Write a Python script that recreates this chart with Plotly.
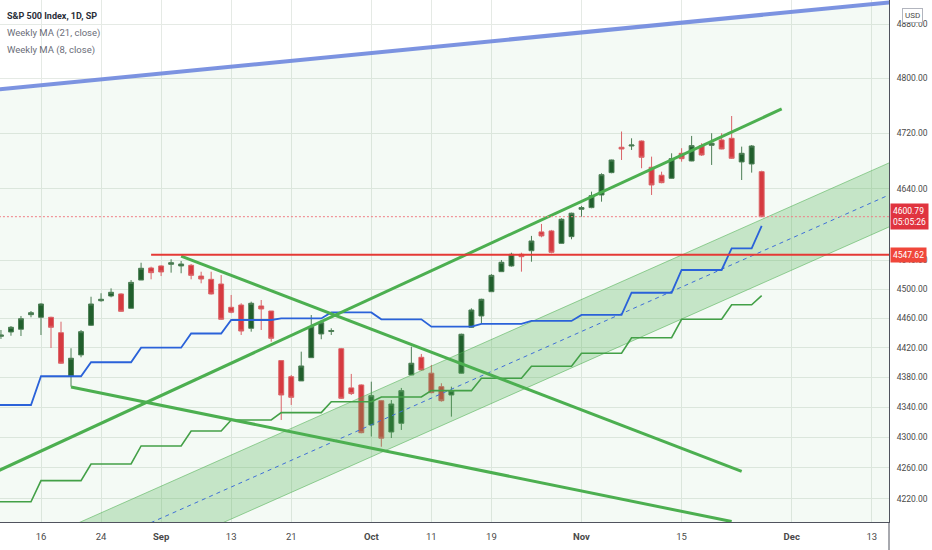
import numpy as np
import plotly.graph_objects as go

# ---- daily candles (S&P 500, 1D) ----
dates = [
    "2021-08-10", "2021-08-11", "2021-08-12", "2021-08-13", "2021-08-16", "2021-08-17",
    "2021-08-18", "2021-08-19", "2021-08-20", "2021-08-23", "2021-08-24", "2021-08-25",
    "2021-08-26", "2021-08-27", "2021-08-30", "2021-08-31", "2021-09-01", "2021-09-02",
    "2021-09-03", "2021-09-07", "2021-09-08", "2021-09-09", "2021-09-10", "2021-09-13",
    "2021-09-14", "2021-09-15", "2021-09-16", "2021-09-17", "2021-09-20", "2021-09-21",
    "2021-09-22", "2021-09-23", "2021-09-24", "2021-09-27", "2021-09-28", "2021-09-29",
    "2021-09-30", "2021-10-01", "2021-10-04", "2021-10-05", "2021-10-06", "2021-10-07",
    "2021-10-08", "2021-10-11", "2021-10-12", "2021-10-13", "2021-10-14", "2021-10-15",
    "2021-10-18", "2021-10-19", "2021-10-20", "2021-10-21", "2021-10-22", "2021-10-25",
    "2021-10-26", "2021-10-27", "2021-10-28", "2021-10-29", "2021-11-01", "2021-11-02",
    "2021-11-03", "2021-11-04", "2021-11-05", "2021-11-08", "2021-11-09", "2021-11-10",
    "2021-11-11", "2021-11-12", "2021-11-15", "2021-11-16", "2021-11-17", "2021-11-18",
    "2021-11-19", "2021-11-22", "2021-11-23", "2021-11-24", "2021-11-26",
]
opens = [
    4435.3, 4441.2, 4444.9, 4464.8, 4461.2, 4461.2, 4440.2, 4381.8, 4410.1, 4450.3,
    4483.9, 4490.4, 4493.2, 4473.5, 4512.4, 4529.1, 4531.9, 4534.2, 4531.9, 4532.8,
    4517.9, 4513.4, 4506.9, 4474.9, 4478.0, 4446.2, 4476.7, 4469.8, 4402.4, 4380.8,
    4375.1, 4406.4, 4438.5, 4441.8, 4418.5, 4365.8, 4369.7, 4316.5, 4348.7, 4307.2,
    4318.7, 4383.1, 4406.9, 4385.5, 4367.4, 4356.3, 4385.5, 4447.6, 4463.0, 4496.3,
    4524.0, 4531.9, 4548.1, 4553.1, 4579.4, 4580.8, 4563.4, 4572.8, 4611.3, 4613.6,
    4631.5, 4663.3, 4699.7, 4701.5, 4708.7, 4671.0, 4659.6, 4655.2, 4691.0, 4680.0,
    4702.0, 4702.5, 4710.2, 4712.6, 4678.6, 4675.7, 4664.7,
]
highs = [
    4443.9, 4449.3, 4463.0, 4469.8, 4480.4, 4462.0, 4455.2, 4419.1, 4443.9, 4489.4,
    4494.2, 4500.9, 4494.2, 4512.4, 4536.4, 4530.9, 4532.8, 4541.2, 4538.8, 4534.6,
    4523.9, 4523.9, 4519.3, 4491.8, 4480.4, 4482.6, 4484.9, 4469.8, 4402.4, 4383.1,
    4414.5, 4464.3, 4457.5, 4446.2, 4419.5, 4384.5, 4370.5, 4374.1, 4349.5, 4349.6,
    4365.7, 4421.3, 4411.4, 4396.6, 4372.0, 4367.4, 4438.9, 4473.5, 4486.7, 4520.6,
    4540.2, 4550.3, 4550.3, 4573.8, 4590.6, 4582.2, 4598.6, 4606.5, 4616.0, 4636.2,
    4662.4, 4681.9, 4722.4, 4712.6, 4709.5, 4686.2, 4664.7, 4691.0, 4698.3, 4716.0,
    4705.5, 4719.9, 4719.9, 4744.9, 4700.6, 4702.9, 4666.1,
]
lows = [
    4431.7, 4436.1, 4435.7, 4461.2, 4437.1, 4419.5, 4398.0, 4367.4, 4406.9, 4449.3,
    4482.6, 4488.6, 4468.8, 4473.5, 4512.4, 4513.4, 4517.9, 4522.6, 4521.8, 4513.4,
    4507.9, 4492.5, 4457.8, 4466.7, 4437.1, 4441.6, 4443.9, 4428.0, 4323.1, 4343.0,
    4375.1, 4406.4, 4431.3, 4437.1, 4351.0, 4356.3, 4305.5, 4301.3, 4287.8, 4299.3,
    4309.9, 4383.1, 4388.9, 4358.6, 4347.4, 4327.5, 4385.0, 4447.0, 4453.0, 4496.0,
    4523.5, 4530.9, 4524.0, 4537.8, 4571.9, 4549.5, 4563.0, 4569.1, 4600.9, 4612.7,
    4622.0, 4662.4, 4681.4, 4695.8, 4669.6, 4631.5, 4648.1, 4654.8, 4679.0, 4679.6,
    4687.2, 4674.3, 4696.8, 4682.9, 4652.8, 4663.3, 4600.0,
]
closes = [
    4437.1, 4447.6, 4459.3, 4467.5, 4479.4, 4447.6, 4398.9, 4405.6, 4441.6, 4479.4,
    4485.9, 4495.5, 4469.4, 4509.2, 4528.7, 4522.6, 4523.6, 4536.4, 4534.6, 4518.9,
    4513.8, 4493.2, 4458.5, 4468.1, 4442.5, 4480.4, 4472.6, 4432.6, 4356.3, 4353.2,
    4395.2, 4448.4, 4453.8, 4443.2, 4351.9, 4358.2, 4306.3, 4355.4, 4299.1, 4344.3,
    4362.1, 4398.9, 4389.8, 4359.4, 4348.7, 4362.1, 4438.1, 4471.2, 4485.9, 4518.9,
    4537.0, 4548.1, 4544.8, 4566.7, 4573.8, 4550.9, 4597.2, 4605.7, 4613.6, 4630.5,
    4660.4, 4681.4, 4697.2, 4702.9, 4685.3, 4645.7, 4649.0, 4683.3, 4683.3, 4702.0,
    4688.6, 4705.5, 4697.2, 4683.9, 4691.0, 4701.5, 4600.79,
]

# ---- weekly moving averages (step lines, first / last day of each week) ----
ma_dates = [
    "2021-08-09", "2021-08-13", "2021-08-16", "2021-08-20", "2021-08-23", "2021-08-27",
    "2021-08-30", "2021-09-03", "2021-09-07", "2021-09-10", "2021-09-13", "2021-09-17",
    "2021-09-20", "2021-09-24", "2021-09-27", "2021-10-01", "2021-10-04", "2021-10-08",
    "2021-10-11", "2021-10-15", "2021-10-18", "2021-10-22", "2021-10-25", "2021-10-29",
    "2021-11-01", "2021-11-05", "2021-11-08", "2021-11-12", "2021-11-15", "2021-11-19",
    "2021-11-22", "2021-11-24", "2021-11-26",
]
ma21 = [
    4343.0, 4343.0, 4381.4, 4381.4, 4400.2, 4400.2, 4419.9, 4419.9, 4439.1, 4439.1,
    4457.5, 4457.5, 4459.6, 4459.6, 4467.9, 4467.9, 4458.5, 4458.5, 4448.4, 4448.4,
    4452.1, 4452.1, 4456.2, 4456.2, 4464.4, 4464.4, 4494.9, 4494.9, 4526.3, 4526.3,
    4556.5, 4556.5, 4587.8,
]
ma8 = [
    4216.2, 4216.2, 4243.5, 4243.5, 4265.2, 4265.2, 4288.8, 4288.8, 4308.5, 4308.5,
    4323.1, 4323.1, 4332.8, 4332.8, 4347.3, 4347.3, 4353.6, 4353.6, 4362.1, 4362.1,
    4378.7, 4378.7, 4394.8, 4394.8, 4412.3, 4412.3, 4433.4, 4433.4, 4458.5, 4458.5,
    4478.4, 4478.4, 4490.8,
]

# ---- drawings ----
edge_dates = ["2021-08-09", "2021-12-15"]
top_line = [4782.6, 4913.3]          # blue line, top of the big channel
floor_line = [4000.0, 4000.0]

chan_dates = ["2021-08-16", "2021-12-15"]
chan_upper = [4167.7, 4679.0]
chan_lower = [4086.8, 4588.1]
chan_mid = [4127.1, 4633.3]

rise_dates = ["2021-08-09", "2021-11-30"]
rise_vals = [4251.9, 4755.2]
fall_dates = ["2021-09-03", "2021-11-23"]
fall_vals = [4545.6, 4255.5]
low_dates = ["2021-08-19", "2021-11-22"]
low_vals = [4367.0, 4190.7]

level_dates = ["2021-08-31", "2021-12-15"]
level = 4547.62
last_price = 4600.79
countdown = "05:05:26"

xtick_dates = ["2021-08-16", "2021-08-24", "2021-09-01", "2021-09-13", "2021-09-21",
               "2021-10-01", "2021-10-11", "2021-10-19", "2021-11-01", "2021-11-15",
               "2021-12-01", "2021-12-13"]
xtick_text = ["16", "24", "<b>Sep</b>", "13", "21", "<b>Oct</b>", "11", "19",
              "<b>Nov</b>", "15", "<b>Dec</b>", "13"]
ytick_vals = [4220, 4260, 4300, 4340, 4380, 4420, 4460, 4500, 4540, 4640, 4720, 4800, 4880]

FONT = "Roboto, Liberation Sans, sans-serif"
GREEN = "#4caf50"

fig = go.Figure()

# pale green under the big channel's top line
fig.add_trace(go.Scatter(x=edge_dates, y=floor_line, mode="lines", line=dict(width=0),
                         hoverinfo="skip"))
fig.add_trace(go.Scatter(x=edge_dates, y=top_line, mode="lines",
                         line=dict(color="rgba(110,135,222,0.9)", width=4),
                         fill="tonexty", fillcolor="rgba(76,175,80,0.06)", hoverinfo="skip"))

# channel
fig.add_trace(go.Scatter(x=chan_dates, y=chan_lower, mode="lines",
                         line=dict(color="rgba(76,175,80,0.55)", width=1), hoverinfo="skip"))
fig.add_trace(go.Scatter(x=chan_dates, y=chan_upper, mode="lines",
                         line=dict(color="rgba(76,175,80,0.55)", width=1),
                         fill="tonexty", fillcolor="rgba(76,175,80,0.28)", hoverinfo="skip"))
fig.add_trace(go.Scatter(x=chan_dates, y=chan_mid, mode="lines",
                         line=dict(color="#3f6fd8", width=1, dash="4px,4px"), hoverinfo="skip"))

# weekly MAs
fig.add_trace(go.Scatter(x=ma_dates, y=ma8, mode="lines",
                         line=dict(color="#43a047", width=1.6), hoverinfo="skip"))
fig.add_trace(go.Scatter(x=ma_dates, y=ma21, mode="lines",
                         line=dict(color="#2a62d9", width=1.8), hoverinfo="skip"))

# candles
fig.add_trace(go.Candlestick(
    x=dates, open=opens, high=highs, low=lows, close=closes,
    increasing=dict(fillcolor="#1e5b2a", line=dict(color="#4f7d57", width=1)),
    decreasing=dict(fillcolor="#e0343f", line=dict(color="#e4606a", width=1)),
    whiskerwidth=0, hoverinfo="skip",
))

# trend lines
for xs, ys in [(rise_dates, rise_vals), (fall_dates, fall_vals), (low_dates, low_vals)]:
    fig.add_trace(go.Scatter(x=xs, y=ys, mode="lines", line=dict(color=GREEN, width=3),
                             hoverinfo="skip"))

# horizontal level and live price line
fig.add_trace(go.Scatter(x=level_dates, y=[level, level], mode="lines",
                         line=dict(color="#e53935", width=2), hoverinfo="skip"))
fig.add_trace(go.Scatter(x=edge_dates, y=[last_price, last_price], mode="lines",
                         line=dict(color="#ef7f85", width=1, dash="2px,2px"), hoverinfo="skip"))

fig.update_xaxes(
    type="date",
    range=["2021-08-09 21:42", "2021-12-14 17:17"],
    rangebreaks=[dict(bounds=["sat", "mon"]), dict(values=["2021-09-06", "2021-11-25"])],
    rangeslider_visible=False,
    tickvals=xtick_dates, ticktext=xtick_text,
    showgrid=True, gridcolor="#e5eae5", gridwidth=1,
    showline=True, linecolor="#50535e", linewidth=1,
    ticks="", ticklabelstandoff=6,
    tickfont=dict(size=9.5, color="#4a4a4a", family=FONT),
    zeroline=False,
)
fig.update_yaxes(
    type="log", side="right",
    range=[np.log10(4190.1), np.log10(4916.5)],
    tickvals=ytick_vals, ticktext=[f"{v:.2f}" for v in ytick_vals],
    showgrid=True, gridcolor="#e5eae5", gridwidth=1,
    showline=True, linecolor="#50535e", linewidth=1,
    ticks="", ticklabelstandoff=5,
    tickfont=dict(size=8.5, color="#4a4a4a", family=FONT),
    zeroline=False,
)

# legend-like labels top-left
legend_rows = [("<b>S&P 500 Index, 1D, SP</b>", "#2a2e39", 9, 16),
               ("Weekly MA (21, close)", "#6a6d78", 9.5, 33),
               ("Weekly MA (8, close)", "#6a6d78", 9.5, 50)]
for txt, col, size, ypx in legend_rows:
    fig.add_annotation(x=0.006, y=1 - ypx / 522, xref="paper", yref="paper",
                       xanchor="left", yanchor="middle", text=txt, showarrow=False,
                       font=dict(size=size, color=col, family=FONT))

# currency box
fig.add_annotation(x=1.026, y=1 - 15.5 / 522, xref="paper", yref="paper",
                   xanchor="center", yanchor="middle",
                   text="USD", showarrow=False, bgcolor="white",
                   bordercolor="#b2b5be", borderwidth=1, borderpad=2,
                   font=dict(size=8, color="#4a4a4a", family=FONT))

# price tags on the axis
fig.add_annotation(x=1, xref="paper", xanchor="left", xshift=1,
                   y=np.log10(last_price), yref="y", yanchor="middle",
                   text=f"{last_price:.2f}<br>{countdown}", showarrow=False, align="left",
                   bgcolor="#e0343f", borderpad=2,
                   font=dict(size=8.5, color="white", family=FONT))
fig.add_annotation(x=1, xref="paper", xanchor="left", xshift=1,
                   y=np.log10(level), yref="y", yanchor="middle",
                   text=f"{level:.2f}", showarrow=False,
                   bgcolor="#f0463a", borderpad=2,
                   font=dict(size=8.5, color="white", family=FONT))

# price-axis line runs down through the time scale
fig.add_shape(type="line", xref="paper", yref="paper", x0=1, x1=1, y0=0, y1=-28 / 522,
              line=dict(color="#50535e", width=1))

fig.update_layout(
    width=932, height=550,
    margin=dict(l=0, r=43, t=0, b=28),
    paper_bgcolor="white", plot_bgcolor="white",
    showlegend=False,
    font=dict(family=FONT),
)

# page body has a default 8px margin; drop it so the chart sits at the window corner
fig.write_html("out.html", config={"displayModeBar": False},
               post_script="document.body.style.margin='0px';")
